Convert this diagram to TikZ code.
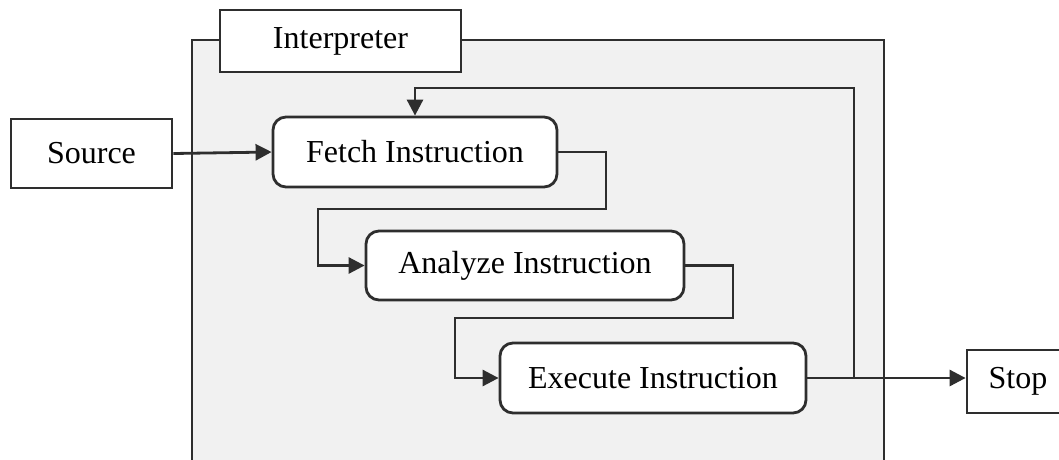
\documentclass[tikz,border=0pt]{standalone}
\usepackage{fontspec}
\setmainfont{Liberation Serif}
\usetikzlibrary{arrows.meta}
\definecolor{ln}{HTML}{2E2E2E}
\definecolor{bg}{HTML}{F1F1F1}
\begin{document}
\begin{tikzpicture}[x=1pt,y=-1pt,
  every node/.style={font=\fontsize{32}{38}\selectfont, inner sep=0pt},
  plainbox/.style={draw=ln, line width=2.8pt, fill=white},
  stepbox/.style={draw=ln, line width=2.8pt, fill=white, rounded corners=13pt},
  conn/.style={draw=ln, line width=2.8pt},
  arr/.style={conn, -{Triangle[length=16pt,width=16pt]}}]
\path[use as bounding box, clip] (0,0) rectangle (1059,459);
\fill[white] (0,0) rectangle (1059,459);
% container
\draw[draw=ln, line width=2.8pt, fill=bg] (192,40) rectangle (884,480);
\node[plainbox, minimum width=241pt, minimum height=62pt] (interp) at (340.5,41) {Interpreter};
\node[plainbox, minimum width=161pt, minimum height=69pt] (source) at (91.5,153.5) {Source};
\node[stepbox, minimum width=284pt, minimum height=70pt] (fetch) at (415,152) {Fetch Instruction};
\node[stepbox, minimum width=318pt, minimum height=69pt] (analyze) at (525,265.5) {Analyze Instruction};
\node[stepbox, minimum width=306pt, minimum height=70pt] (execute) at (653,378) {Execute Instruction};
\node[plainbox, minimum width=102pt, minimum height=63pt] (stop) at (1018,381.5) {Stop};
\coordinate (k1) at (606,209);
\coordinate (k2) at (318,209);
\coordinate (k3) at (733,318);
\coordinate (k4) at (455,318);
\coordinate (k5) at (854,88);
\draw[arr] (source.east) -- (fetch.west);
\draw[arr] (fetch.east) -| (k1) -- (k2) |- (analyze.west);
\draw[arr] (analyze.east) -| (k3) -- (k4) |- (execute.west);
\draw[arr] (execute.east) -| (k5) -| (fetch.north);
\draw[arr] (execute.east) -- (execute.east -| stop.west);
\end{tikzpicture}
\end{document}
